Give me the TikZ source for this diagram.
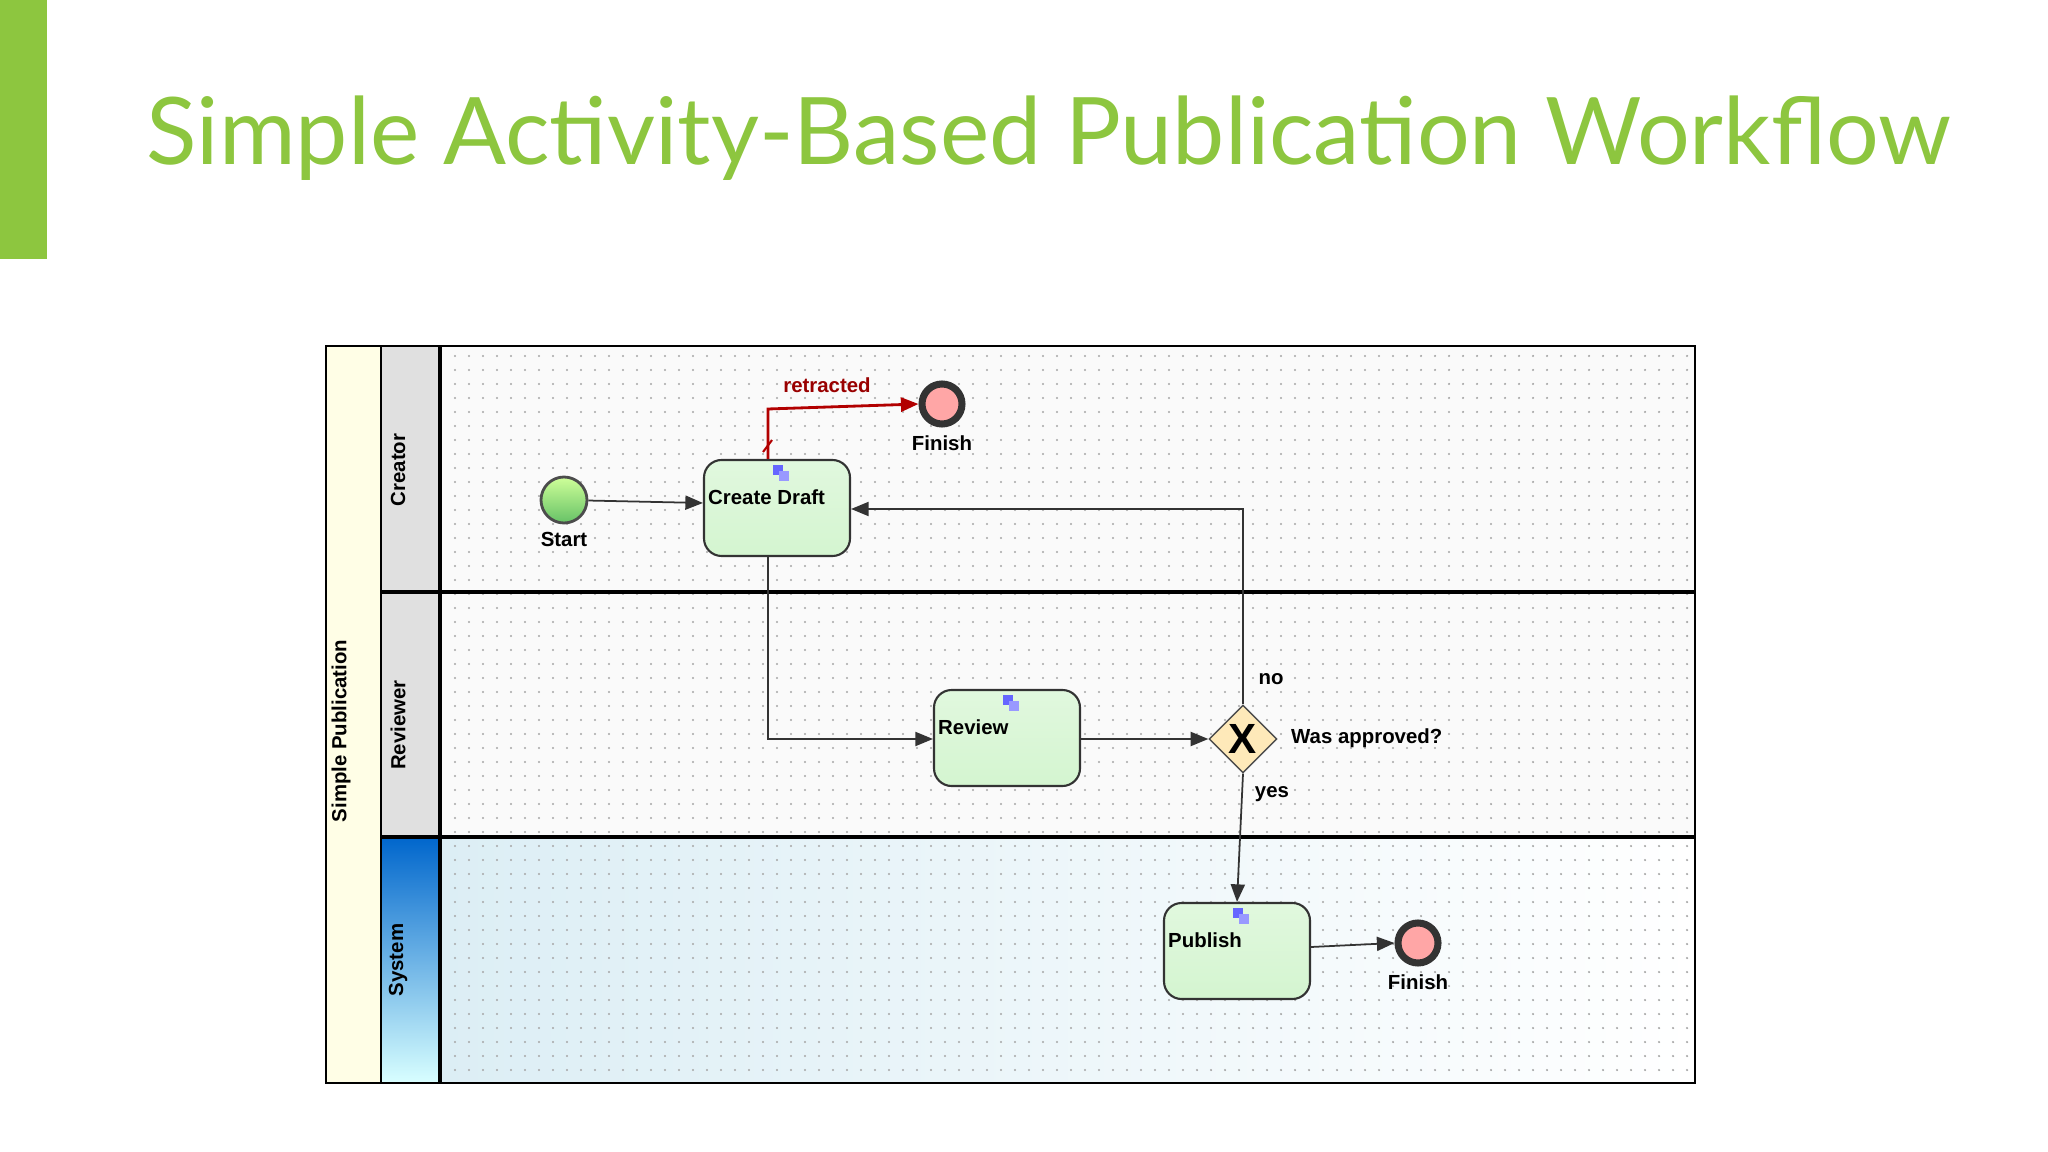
\documentclass[tikz,border=0pt]{standalone}
\usepackage{fontspec}
\setmainfont{Liberation Sans}
\newfontfamily\titlefont{Lato}
\usetikzlibrary{shapes.geometric,arrows.meta,calc}
\definecolor{tgreen}{HTML}{8DC63F}
\definecolor{taskfill}{HTML}{D4F5D0}
\definecolor{syslane}{HTML}{DCEEF5}
\begin{document}
\begin{tikzpicture}[x=0.01cm,y=-0.01cm,
  lbl/.style={font=\fontsize{5.8}{7}\selectfont\bfseries,inner sep=1pt},
  task/.style={draw=black!80,rounded corners=5pt,minimum width=146*0.01cm,minimum height=96*0.01cm,inner sep=0pt,top color=taskfill!70,bottom color=taskfill,line width=0.6pt},
  flow/.style={draw=black!80,line width=0.5pt,-{Triangle[length=5pt,width=4pt]}},
  lane/.style={line width=1.2pt}]
\useasboundingbox (0,0) rectangle (2048,1152);
\fill[white] (0,0) rectangle (2048,1152);
\fill[tgreen] (0,0) rectangle (47,259);
\node[anchor=west,text=tgreen,font=\titlefont\fontsize{26.5}{32}\selectfont,inner sep=0pt] (title) at (146,138) {Simple Activity-Based Publication Workflow};
% pool
\fill[yellow!10] (326,346) rectangle (381,1083);
\fill[black!12] (381,346) rectangle (440,837);
\shade[top color=blue!50!cyan!80!black, bottom color=cyan!15] (381,837) rectangle (440,1083);
\fill[black!2] (440,346) rectangle (1695,837);
\shade[left color=syslane,right color=white] (440,837) rectangle (1695,1083);
\foreach \x in {455,469,...,1690}{\foreach \y in {356,370,...,1080}{\fill[black!35] (\x,\y) circle (0.35pt);}}
\draw[line width=0.8pt] (326,346) rectangle (1695,1083);
\draw[line width=0.6pt] (381,346) -- (381,1083);
\draw[lane] (440,346) -- (440,1083);
\draw[lane] (381,592) -- (1695,592);
\draw[lane] (381,837) -- (1695,837);
\node[lbl,rotate=90] (pool) at (341,731) {Simple Publication};
\node[lbl,rotate=90] (l1) at (398,470) {Creator};
\node[lbl,rotate=90] (l2) at (398,725) {Reviewer};
\node[lbl,rotate=90] (l3) at (398,960) {System};
% nodes
\node[circle,draw=black!70,line width=0.8pt,inner sep=0pt,minimum size=46*0.01cm,top color=green!30!lime!40,bottom color=green!60!black!60] (start) at (564,500) {};
\node[lbl,below=1pt] (startl) at (start.south) {Start};
\node[task] (draft) at (777,508) {};
\node[lbl,anchor=west] (draftl) at (704,497) {Create Draft};
\node[circle,draw=black!80,line width=2pt,inner sep=0pt,minimum size=40*0.01cm,fill=red!35] (fin1) at (942,404) {};
\node[lbl,below=1pt] (fin1l) at (fin1.south) {Finish};
\node[task] (review) at (1007,738) {};
\node[lbl,anchor=west] (reviewl) at (934,727) {Review};
\node[diamond,draw=black!70,fill=yellow!40!orange!25,minimum size=68*0.01cm,inner sep=0pt] (gw) at (1243,739) {};
\node[font=\fontsize{12}{12}\selectfont\bfseries] (gwx) at (gw) {X};
\node[lbl,anchor=west] (gwl) at (1287,738) {Was approved?};
\node[task] (pub) at (1237,951) {};
\node[lbl,anchor=west] (publ) at (1164,940) {Publish};
\node[circle,draw=black!80,line width=2pt,inner sep=0pt,minimum size=40*0.01cm,fill=red!35] (fin2) at (1418,943) {};
\node[lbl,below=1pt] (fin2l) at (fin2.south) {Finish};
% icons
\foreach \n in {draft,review,pub}{\fill[blue!60] ($(\n.north)+(-4,6)$) rectangle ++(10,10); \fill[blue!40] ($(\n.north)+(2,12)$) rectangle ++(10,10);}
% flows
\draw[flow] (start) -- (draft.west |- 0,503);
\draw[flow] (gw.north) |- (draft.east |- 0,509);
\draw[flow] (draft.south -| 768,0) |- (review.west |- 0,739);
\draw[flow] (review.east |- 0,739) -- (gw.west);
\draw[flow] (gw.south) -- (pub.north);
\draw[flow] (pub.east |- 0,947) -- (fin2.west);
\draw[red!70!black,line width=0.8pt,-{Triangle[length=5pt,width=4pt]}] (draft.north -| 768,0) -- (768,409) -- (fin1.west);
\draw[red!70!black,line width=0.6pt] (763,452) -- (772,440);
\node[lbl,text=red!60!black] (ret) at (827,385) {retracted};
\node[lbl] (no) at (1271,679) {no};
\node[lbl] (yes) at (1272,794) {yes};
\end{tikzpicture}
\end{document}
